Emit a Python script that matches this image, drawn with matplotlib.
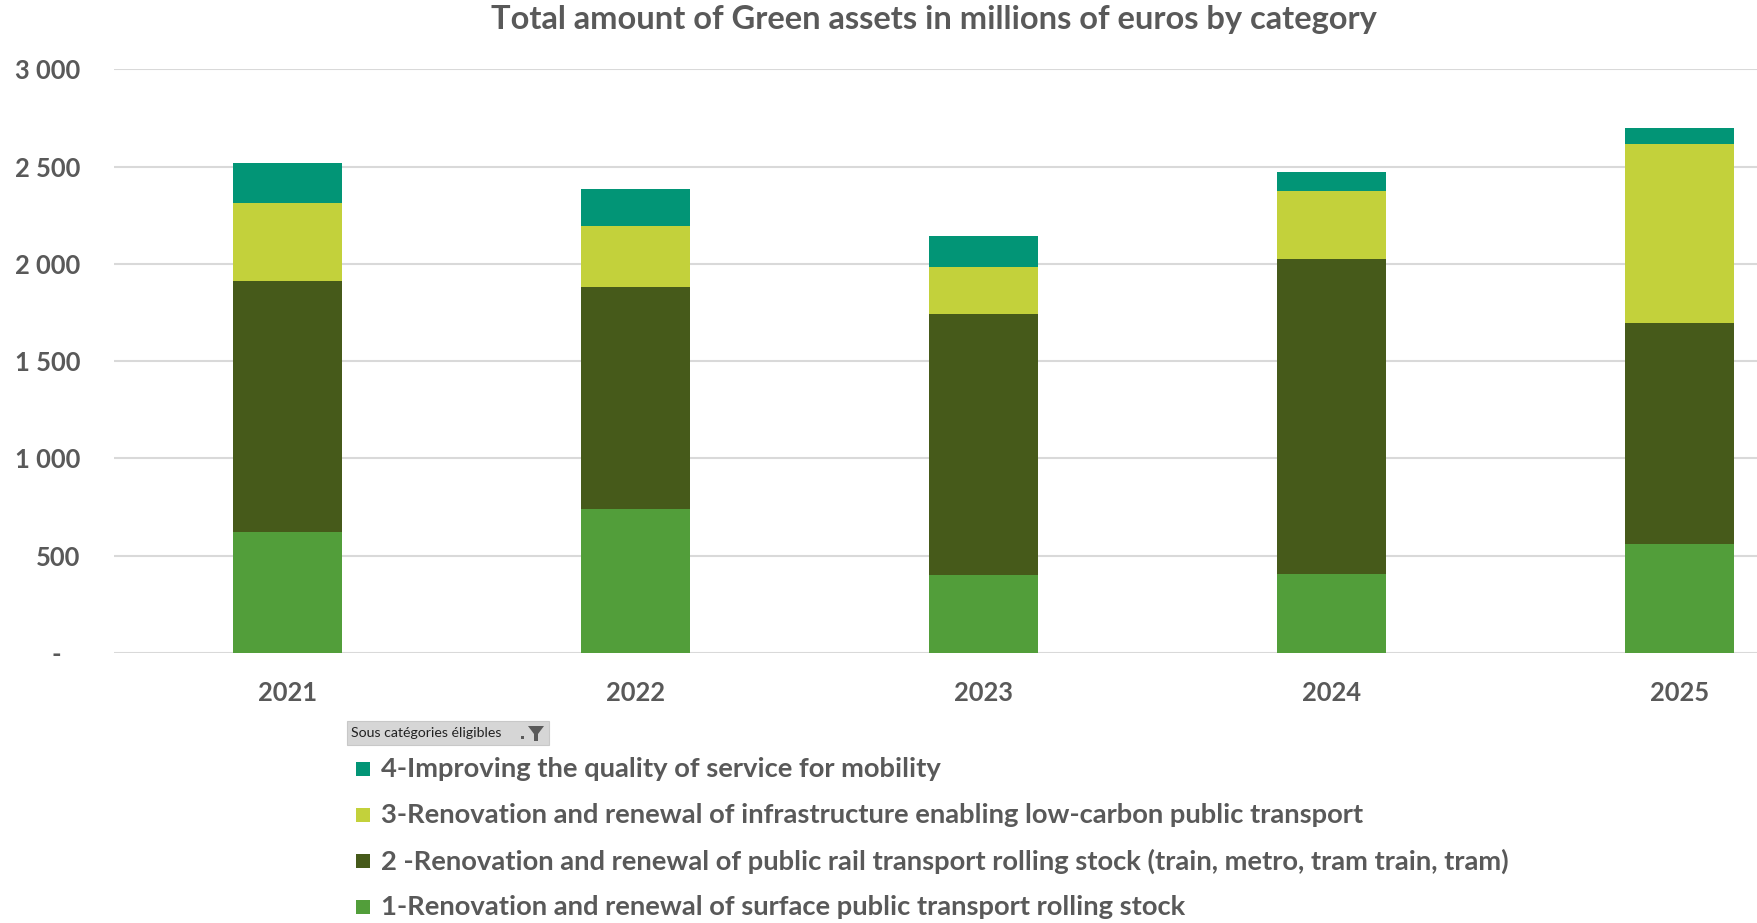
import numpy as np
import matplotlib
matplotlib.use("Agg")
import matplotlib.pyplot as plt
from matplotlib.patches import Rectangle, Polygon
from matplotlib.ticker import FuncFormatter

plt.rcParams['font.family'] = ['Lato', 'DejaVu Sans']

years = ['2021', '2022', '2023', '2024', '2025']

# millions of euros per sub-category, bottom to top
surface_rolling = [622, 740, 401, 406, 560]
rail_rolling = [1290, 1141, 1340, 1619, 1136]
infrastructure = [399, 315, 243, 348, 920]
service_quality = [206, 189, 159, 97, 84]

labels = [
    '1-Renovation and renewal of surface public transport rolling stock',
    '2 -Renovation and renewal of public rail transport rolling stock (train, metro, tram train, tram)',
    '3-Renovation and renewal of infrastructure enabling low-carbon public transport',
    '4-Improving the quality of service for mobility',
]
colors = ['#529E3A', '#465A1A', '#C3D13B', '#029576']
grey = '#595959'

fig = plt.figure(figsize=(17.58, 9.23), dpi=100)
ax = fig.add_axes([0.0647, 0.2925, 0.98976, 0.6324])

x = np.arange(len(years))
bottom = np.zeros(len(years))
for vals, col, lab in zip([surface_rolling, rail_rolling, infrastructure, service_quality], colors, labels):
    ax.bar(x, vals, width=0.313, bottom=bottom, color=col, label=lab, zorder=3)
    bottom += np.array(vals)

ax.set_xlim(-0.5, 4.5)
ax.set_ylim(0, 3000)
ax.set_yticks(np.arange(0, 3001, 500))
ax.yaxis.set_major_formatter(FuncFormatter(
    lambda v, p: '-   ' if v == 0 else f'{int(v):,}'.replace(',', ' ')))
ax.set_xticks(x)
ax.set_xticklabels(years)
ax.grid(axis='y', color='#D9D9D9', linewidth=1.5, zorder=0)
for s in ax.spines.values():
    s.set_visible(False)
ax.tick_params(axis='both', length=0, labelsize=18.4, labelcolor=grey)
ax.tick_params(axis='y', pad=24)
ax.tick_params(axis='x', pad=20)
for t in ax.get_xticklabels() + ax.get_yticklabels():
    t.set_fontweight('bold')

fig.text(0.531, 0.979, 'Total amount of Green assets in millions of euros by category',
         ha='center', va='center', fontsize=23.5, fontweight='bold', color=grey)

# field button of the pivot chart
W, H = 1758.0, 923.0
fig.patches.append(Rectangle((347 / W, 1 - 745 / H), 202 / W, 24 / H,
                             transform=fig.transFigure, facecolor='#D6D6D6',
                             edgecolor='#C8C8C8', linewidth=0.8))
fig.text(351 / W, 1 - 733 / H, 'Sous catégories éligibles', ha='left', va='center',
         fontsize=10.2, color='#222222')
fig.patches.append(Polygon([(528 / W, 1 - 726 / H), (544 / W, 1 - 726 / H),
                            (538 / W, 1 - 734 / H), (538 / W, 1 - 741 / H),
                            (534 / W, 1 - 741 / H), (534 / W, 1 - 734 / H)],
                           closed=True, transform=fig.transFigure, facecolor='#5A5A5A'))
fig.patches.append(Rectangle((521 / W, 1 - 739 / H), 3 / W, 3 / H,
                             transform=fig.transFigure, facecolor='#5A5A5A'))

# legend rows, top entry first
row_y = [769, 815, 861, 907]
for yy, col, lab in zip(row_y, colors[::-1], labels[::-1]):
    fig.patches.append(Rectangle((356 / W, 1 - (yy + 7) / H), 14 / W, 14 / H,
                                 transform=fig.transFigure, facecolor=col))
    fig.text(381 / W, 1 - yy / H, lab, ha='left', va='center',
             fontsize=19.7, fontweight='bold', color=grey)

fig.savefig('out.png', dpi=100, facecolor='white')
